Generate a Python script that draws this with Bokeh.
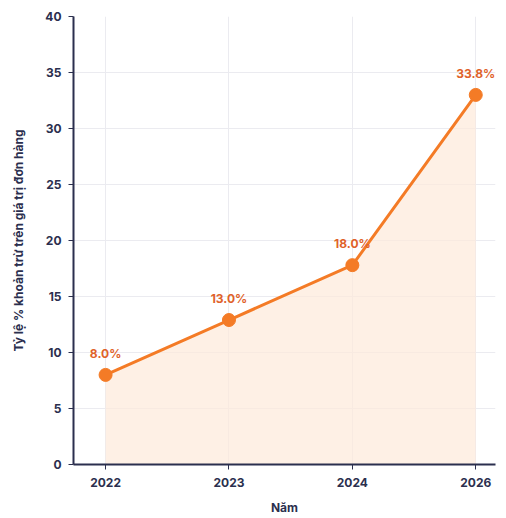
from bokeh.plotting import figure
from bokeh.models import ColumnDataSource, FixedTicker, Range1d
from bokeh.core.properties import value
from bokeh.embed import file_html
from bokeh.resources import INLINE

years = ["2022", "2023", "2024", "2026"]
rates = [8.0, 12.9, 17.8, 33.0]
rate_labels = ["8.0%", "13.0%", "18.0%", "33.8%"]
y_ticks = [0, 5, 10, 15, 20, 25, 30, 35, 40]

idx = list(range(len(years)))
src = ColumnDataSource(dict(x=idx, y=rates, lab=rate_labels, base=[0] * len(idx)))

FONT = "Inter"
NAVY = "#2b2f4e"
ORANGE = "#f47b26"

p = figure(width=506, height=518, output_backend="svg", toolbar_location=None,
           x_range=Range1d(-0.26, 3.16), y_range=Range1d(0, 40),
           min_border_left=73, min_border_right=11, min_border_top=16, min_border_bottom=54)
p.outline_line_color = None
p.background_fill_color = "white"
p.border_fill_color = "white"

p.varea(x="x", y1="base", y2="y", source=src, fill_color="#fde9da", fill_alpha=0.7)
p.line(x="x", y="y", source=src, line_color=ORANGE, line_width=3)
p.scatter(x="x", y="y", source=src, size=13, fill_color=ORANGE, line_color=ORANGE)
p.text(x="x", y="y", text="lab", source=src, text_align="center", text_baseline="bottom",
       y_offset=-14, text_font=value(FONT), text_font_size="12px", text_font_style="bold",
       text_color="#e0622a")

p.xaxis.ticker = FixedTicker(ticks=idx)
p.xaxis.major_label_overrides = {i: y for i, y in zip(idx, years)}
p.yaxis.ticker = FixedTicker(ticks=y_ticks)
p.xgrid.ticker = FixedTicker(ticks=idx)

for ax in (p.xaxis[0], p.yaxis[0]):
    ax.axis_line_color = NAVY
    ax.axis_line_width = 2
    ax.major_tick_line_color = NAVY
    ax.major_tick_line_width = 1
    ax.major_tick_out = 5
    ax.major_tick_in = 0
    ax.minor_tick_line_color = None
    ax.major_label_text_font = FONT
    ax.major_label_text_font_size = "12px"
    ax.major_label_text_font_style = "bold"
    ax.major_label_text_color = NAVY
    ax.axis_label_text_font = FONT
    ax.axis_label_text_font_size = "12px"
    ax.axis_label_text_font_style = "bold"
    ax.axis_label_text_color = NAVY

p.xaxis.axis_label = "Năm"
p.yaxis.axis_label = "Tỷ lệ % khoản trừ trên giá trị đơn hàng"
p.xaxis.major_label_standoff = 8
p.yaxis.major_label_standoff = 7
p.xaxis.axis_label_standoff = 10
p.yaxis.axis_label_standoff = 16

p.xgrid.grid_line_color = "#ebebf0"
p.ygrid.grid_line_color = "#ebebf0"

open("out.html", "w").write(file_html(p, INLINE))
